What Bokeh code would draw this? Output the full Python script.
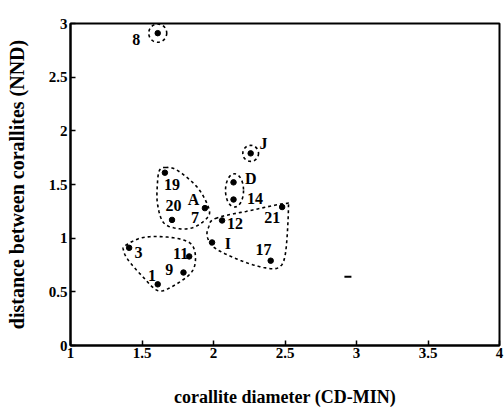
import numpy as np
from bokeh.plotting import figure
from bokeh.models import Range1d, FixedTicker, ColumnDataSource
from bokeh.core.properties import value
from bokeh.embed import file_html
from bokeh.resources import INLINE

# ---- data ----
x_ticks = [1, 1.5, 2, 2.5, 3, 3.5, 4]
x_tick_labels = ["1", "1.5", "2", "2.5", "3", "3.5", "4"]
y_ticks = [0, 0.5, 1, 1.5, 2, 2.5, 3]
y_tick_labels = ["0", "0.5", "1", "1.5", "2", "2.5", "3"]

pt_x = [1.61, 2.26, 2.14, 2.14, 1.66, 1.71, 1.94, 2.06, 2.48, 1.99, 2.40, 1.41, 1.83, 1.79, 1.61]
pt_y = [2.91, 1.79, 1.52, 1.36, 1.61, 1.17, 1.28, 1.165, 1.29, 0.96, 0.79, 0.91, 0.83, 0.68, 0.57]

lab_text = ["8", "J", "D", "14", "19", "20", "A", "7", "12", "21", "I", "17", "3", "11", "9", "1"]
lab_x = [1.46, 2.35, 2.26, 2.29, 1.71, 1.72, 1.86, 1.87, 2.15, 2.41, 2.10, 2.35, 1.475, 1.77, 1.69, 1.57]
lab_y = [2.85, 1.88, 1.56, 1.37, 1.50, 1.30, 1.36, 1.19, 1.14, 1.19, 0.95, 0.89, 0.87, 0.86, 0.71, 0.65]

stray_x = [2.94]
stray_y = [0.64]

# group outlines (dashed)
grpA_x = [1.664, 1.748, 1.888, 1.965, 1.958, 1.860, 1.748, 1.650, 1.608, 1.608, 1.622]
grpA_y = [1.659, 1.631, 1.472, 1.286, 1.193, 1.100, 1.090, 1.146, 1.323, 1.510, 1.631]
grpB_x = [2.014, 2.259, 2.503, 2.524, 2.503, 2.455, 2.350, 2.189, 2.014, 1.958, 1.965]
grpB_y = [1.184, 1.258, 1.323, 1.286, 0.857, 0.727, 0.727, 0.792, 0.904, 1.007, 1.100]
grpC_x = [1.385, 1.510, 1.699, 1.839, 1.874, 1.839, 1.699, 1.608, 1.510, 1.406, 1.371]
grpC_y = [0.932, 1.007, 1.007, 0.951, 0.811, 0.671, 0.541, 0.513, 0.634, 0.792, 0.885]

ell_x = [2.147, 2.26, 1.61]
ell_y = [1.445, 1.79, 2.91]
ell_w = [0.126, 0.11, 0.126]
ell_h = [0.31, 0.15, 0.17]


def smooth_closed(xs, ys, n=16):
    xs = np.asarray(xs, float)
    ys = np.asarray(ys, float)
    m = len(xs)
    outx, outy = [], []
    for i in range(m):
        p0 = np.array([xs[(i - 1) % m], ys[(i - 1) % m]])
        p1 = np.array([xs[i], ys[i]])
        p2 = np.array([xs[(i + 1) % m], ys[(i + 1) % m]])
        p3 = np.array([xs[(i + 2) % m], ys[(i + 2) % m]])
        for t in np.linspace(0, 1, n, endpoint=False):
            t2, t3 = t * t, t * t * t
            pt = 0.5 * ((2 * p1) + (-p0 + p2) * t + (2 * p0 - 5 * p1 + 4 * p2 - p3) * t2
                        + (-p0 + 3 * p1 - 3 * p2 + p3) * t3)
            outx.append(pt[0])
            outy.append(pt[1])
    outx.append(outx[0])
    outy.append(outy[0])
    return outx, outy


FONT = "Liberation Serif"

p = figure(width=504, height=414, x_range=Range1d(1, 4), y_range=Range1d(0, 3),
           output_backend="svg", toolbar_location=None,
           min_border_left=70, min_border_right=5, min_border_top=23, min_border_bottom=69)
p.background_fill_color = "white"
p.border_fill_color = "white"
p.outline_line_color = "black"
p.outline_line_width = 2
p.xgrid.visible = False
p.ygrid.visible = False

for ax, ticks, labels in ((p.xaxis[0], x_ticks, x_tick_labels), (p.yaxis[0], y_ticks, y_tick_labels)):
    ax.ticker = FixedTicker(ticks=ticks)
    ax.major_label_overrides = {t: l for t, l in zip(ticks, labels)}
    ax.major_tick_in = 5
    ax.major_tick_out = 0
    ax.minor_tick_line_color = None
    ax.axis_line_width = 2
    ax.major_tick_line_width = 1.5
    ax.major_label_text_font = FONT
    ax.major_label_text_font_style = "bold"
    ax.major_label_text_font_size = "15px"
    ax.major_label_text_color = "black"
    ax.axis_label_text_font = FONT
    ax.axis_label_text_font_style = "bold"
    ax.axis_label_text_color = "black"

p.xaxis.axis_label = "corallite diameter (CD-MIN)"
p.xaxis.axis_label_text_font_size = "18px"
p.xaxis.axis_label_standoff = 26
p.xaxis.major_label_standoff = 2
p.yaxis.axis_label = "distance between corallites (NND)"
p.yaxis.axis_label_text_font_size = "20px"
p.yaxis.axis_label_standoff = 18
p.yaxis.major_label_standoff = 3

for gx, gy in ((grpA_x, grpA_y), (grpB_x, grpB_y), (grpC_x, grpC_y)):
    sx, sy = smooth_closed(gx, gy)
    p.line(sx, sy, line_color="black", line_width=1.6, line_dash="3 3")

p.ellipse(x=ell_x, y=ell_y, width=ell_w, height=ell_h, fill_color=None,
          line_color="black", line_width=1.6, line_dash="3 3")

p.scatter(pt_x, pt_y, size=5.5, marker="circle", color="black")
p.scatter(stray_x, stray_y, size=7, marker="dash", line_color="black", line_width=2)

src = ColumnDataSource(dict(x=lab_x, y=lab_y, t=lab_text))
p.text(x="x", y="y", text="t", source=src, text_font=value(FONT), text_font_style="bold",
       text_font_size="16px", text_align="center", text_baseline="middle", text_color="black")

open("out.html", "w").write(file_html(p, INLINE))
